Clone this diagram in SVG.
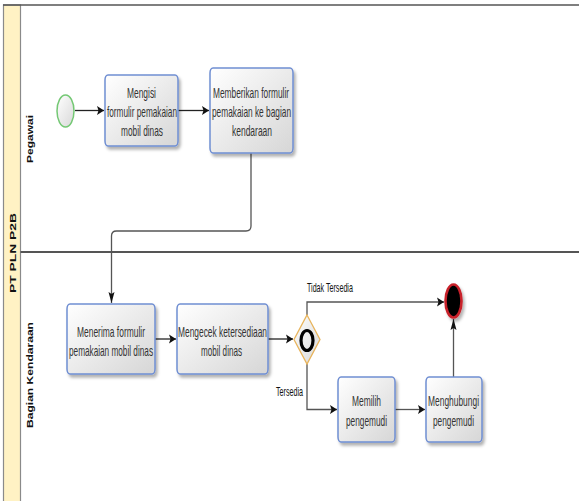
<svg xmlns="http://www.w3.org/2000/svg" width="579" height="501" viewBox="0 0 579 501">
<style>
.task rect{fill:url(#tg);stroke:#6f8ed2;stroke-width:1.5;filter:url(#sh)}
.tt{font-family:"Liberation Sans",Arial,sans-serif;font-size:14px;fill:#333;text-anchor:middle}
.lane{font-family:"Liberation Sans",Arial,sans-serif;font-size:9px;font-weight:bold;fill:#111;text-anchor:middle}
.lbl{font-family:"Liberation Sans",Arial,sans-serif;font-size:12px;fill:#111}
.flow{fill:none;stroke:#555;stroke-width:1.3}
.flowk{fill:none;stroke:#222;stroke-width:1.3}
</style>
<defs>
<linearGradient id="tg" x1="0" y1="0" x2="1" y2="1">
<stop offset="0" stop-color="#ffffff"/>
<stop offset="1" stop-color="#d6d6d6"/>
</linearGradient>
<linearGradient id="eg" x1="0" y1="0" x2="1" y2="1">
<stop offset="0" stop-color="#ffffff"/>
<stop offset="1" stop-color="#d8d8d8"/>
</linearGradient>
<filter id="sh" x="-20%" y="-20%" width="150%" height="150%">
<feDropShadow dx="2" dy="3" stdDeviation="1.5" flood-color="#000" flood-opacity="0.3"/>
</filter>
<marker id="ah" markerUnits="userSpaceOnUse" markerWidth="8" markerHeight="10" refX="7" refY="5" orient="auto">
<path d="M0,0.5 L7,5 L0,9.5 L1.5,5 Z" fill="#111"/>
</marker>
<marker id="av" markerUnits="userSpaceOnUse" markerWidth="12" markerHeight="8" refX="11" refY="3.5" orient="auto">
<path d="M0,0.5 L11,3.5 L0,6.5 L2,3.5 Z" fill="#111"/>
</marker>
</defs>

<g id="pool">
<rect x="3.5" y="5" width="17" height="500" fill="#fff2c4" stroke="#8a8a8a" stroke-width="1.2"/>
<line x1="3" y1="5" x2="579" y2="5" stroke="#555" stroke-width="1.6"/>
<line x1="20.5" y1="252" x2="579" y2="252" stroke="#555" stroke-width="2"/>
<text class="lane" transform="translate(16,253) rotate(-90)" textLength="80" lengthAdjust="spacingAndGlyphs">PT PLN P2B</text>
<text class="lane" transform="translate(32.5,139) rotate(-90)" textLength="48" lengthAdjust="spacingAndGlyphs">Pegawai</text>
<text class="lane" transform="translate(32.5,375) rotate(-90)" textLength="106" lengthAdjust="spacingAndGlyphs">Bagian  Kendaraan</text>
</g>

<g id="connectors">
<path class="flowk" d="M75,110.5 H104" marker-end="url(#ah)"/>
<path class="flowk" d="M178,110.5 H209" marker-end="url(#ah)"/>
<path class="flow" d="M251,153 V226 Q251,231 246,231 H116.5 Q111.5,231 111.5,236 V303" marker-end="url(#av)"/>
<path class="flowk" d="M155,339 H176" marker-end="url(#ah)"/>
<path class="flowk" d="M268,339 H293" marker-end="url(#ah)"/>
<path class="flow" d="M307,315 V302 H444" marker-end="url(#ah)"/>
<path class="flow" d="M307,364 V409.5 H337" marker-end="url(#ah)"/>
<path class="flow" d="M395,409.5 H425" marker-end="url(#ah)"/>
<path class="flow" d="M453.5,377 V319" marker-end="url(#av)"/>
<text class="lbl" transform="translate(307,292) scale(0.62,1)" textLength="74" lengthAdjust="spacingAndGlyphs">Tidak Tersedia</text>
<text class="lbl" transform="translate(276,396) scale(0.62,1)" textLength="43.5" lengthAdjust="spacingAndGlyphs">Tersedia</text>
</g>

<g id="start">
<ellipse cx="65.5" cy="111" rx="8.5" ry="16" fill="url(#eg)" stroke="#74c874" stroke-width="1.5"/>
</g>

<g id="t1" class="task">
<rect x="105" y="75" width="73" height="71" rx="3" ry="5"/>
<text class="tt" transform="translate(141.5,97.5) scale(0.6,1)" textLength="48.3" lengthAdjust="spacingAndGlyphs">Mengisi</text>
<text class="tt" transform="translate(142,116.5) scale(0.6,1)" textLength="116.7" lengthAdjust="spacingAndGlyphs">formulir pemakaian</text>
<text class="tt" transform="translate(142,135.5) scale(0.6,1)" textLength="70" lengthAdjust="spacingAndGlyphs">mobil dinas</text>
</g>

<g id="t2" class="task">
<rect x="210" y="68" width="83" height="85" rx="3" ry="5"/>
<text class="tt" transform="translate(251,97.5) scale(0.6,1)" textLength="126.7" lengthAdjust="spacingAndGlyphs">Memberikan formulir</text>
<text class="tt" transform="translate(251.5,116.5) scale(0.6,1)" textLength="131.7" lengthAdjust="spacingAndGlyphs">pemakaian ke bagian</text>
<text class="tt" transform="translate(252,135.5) scale(0.6,1)" textLength="66.7" lengthAdjust="spacingAndGlyphs">kendaraan</text>
</g>

<g id="t3" class="task">
<rect x="67" y="304" width="88" height="70" rx="3" ry="5"/>
<text class="tt" transform="translate(111,337) scale(0.6,1)" textLength="113.3" lengthAdjust="spacingAndGlyphs">Menerima formulir</text>
<text class="tt" transform="translate(111,356) scale(0.6,1)" textLength="140" lengthAdjust="spacingAndGlyphs">pemakaian mobil dinas</text>
</g>

<g id="t4" class="task">
<rect x="177" y="304" width="91" height="70" rx="3" ry="5"/>
<text class="tt" transform="translate(222.5,337) scale(0.6,1)" textLength="148.3" lengthAdjust="spacingAndGlyphs">Mengecek ketersediaan</text>
<text class="tt" transform="translate(221.5,356) scale(0.6,1)" textLength="68.3" lengthAdjust="spacingAndGlyphs">mobil dinas</text>
</g>

<g id="gateway">
<path d="M307,315 L320,339.5 L307,364 L294,339.5 Z" fill="url(#eg)" stroke="#e8b45c" stroke-width="1.3"/>
<ellipse cx="307" cy="340.5" rx="6" ry="10" fill="none" stroke="#000" stroke-width="3.2"/>
</g>

<g id="t5" class="task">
<rect x="338" y="377" width="57" height="65" rx="3" ry="5"/>
<text class="tt" transform="translate(366.5,405.5) scale(0.6,1)" textLength="48.3" lengthAdjust="spacingAndGlyphs">Memilih</text>
<text class="tt" transform="translate(366.5,425.5) scale(0.6,1)" textLength="68.3" lengthAdjust="spacingAndGlyphs">pengemudi</text>
</g>

<g id="t6" class="task">
<rect x="426" y="377" width="56" height="65" rx="3" ry="5"/>
<text class="tt" transform="translate(453.5,405.5) scale(0.6,1)" textLength="85" lengthAdjust="spacingAndGlyphs">Menghubungi</text>
<text class="tt" transform="translate(453.5,425.5) scale(0.6,1)" textLength="68.3" lengthAdjust="spacingAndGlyphs">pengemudi</text>
</g>

<g id="end">
<ellipse cx="453.5" cy="301" rx="8" ry="16.5" fill="#000" stroke="#c8202a" stroke-width="2.6" filter="url(#sh)"/>
</g>
</svg>
